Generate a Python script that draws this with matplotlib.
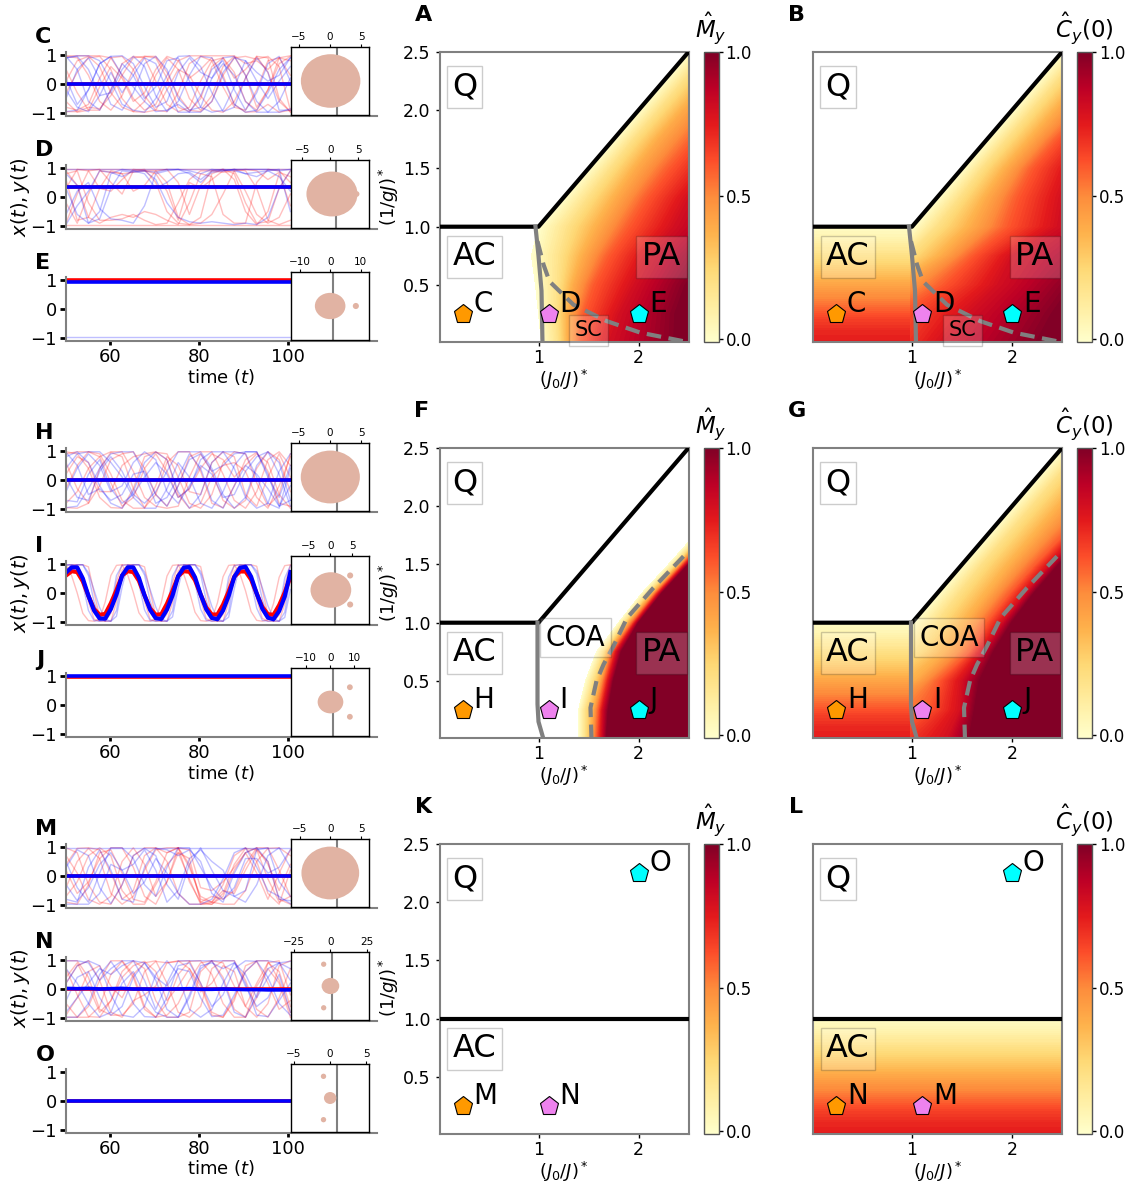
import numpy as np
import matplotlib
matplotlib.use('Agg')
import matplotlib.pyplot as plt
from matplotlib.patches import Ellipse, Polygon
from matplotlib.cm import ScalarMappable
from matplotlib.colors import Normalize

W, H = 1133, 1184

# traces, read at even steps from t=50 to t=100
C_red = [
 [.95,.9,.3,-.6,-.9,-.4,.5,.95,.9,.2,-.8,-.95,-.5,.6,.9,.4,-.6,-.9,-.2,.7,.95],
 [-.8,-.9,-.7,.2,.9,.95,.5,-.4,-.9,-.95,-.3,.7,.95,.8,-.1,-.8,-.9,-.2,.8,.9,.3],
 [.5,-.3,-.9,-.9,-.2,.7,.95,.9,.1,-.7,-.95,-.8,.1,.8,.9,.2,.5,.95,.4,-.6,-.95],
 [-.95,-.95,-.8,-.85,-.4,.3,.9,.95,.95,.4,-.4,-.9,-.95,-.6,.3,.9,.95,.85,.95,.6,-.9],
 [.97,.97,.97,.97,.9,.3,-.5,-.9,-.7,.1,.8,.97,.97,.97,.97,.97,.7,.8,.5,.9,.97],
 [.1,.8,.95,.6,-.3,-.8,-.95,-.97,-.9,-.2,.5,.3,-.4,-.9,-.97,-.6,.2,.95,.9,-.5,-.97],
 [-.6,-.97,-.9,-.1,.6,.2,-.6,-.3,.5,.95,.8,.2,.5,.9,.3,-.7,-.97,-.95,-.7,-.97,-.9],
 [-.3,.4,.9,.95,.5,-.5,-.95,-.6,.3,.9,.5,-.5,-.9,-.4,.6,.95,.3,-.8,-.2,.9,.8],
]
C_blue = [
 [.9,.95,.5,-.4,-.3,.5,.95,.6,-.4,-.95,-.6,.3,.95,.9,.2,-.7,-.97,-.9,-.3,.5,.9],
 [-.5,.5,.9,.2,-.7,-.9,-.3,.7,.95,.5,-.5,-.9,-.8,.2,.9,.95,.3,-.6,-.97,-.97,-.85],
 [.95,.5,-.6,-.9,-.2,.7,.3,-.5,-.1,.8,.9,.1,-.8,-.97,-.9,-.1,.8,.4,.1,.3,.9],
 [-.95,-.9,-.2,.7,.95,.97,.7,-.1,-.8,-.6,.4,.9,.4,.2,.7,.3,-.6,-.97,-.97,-.6,.2],
 [.2,-.7,-.2,.7,.95,.3,-.1,-.6,-.95,-.9,-.7,-.97,-.97,-.6,.4,.9,.8,.1,-.5,.1,.6],
 [.9,.97,.97,.8,.1,-.7,-.9,-.97,-.5,.3,.95,.97,.6,-.3,-.95,-.8,.2,.9,.4,-.9,-.9],
 [-.2,-.8,-.95,-.4,.4,-.3,.3,.9,.7,-.2,-.97,-.97,-.4,.5,.8,-.2,-.9,-.3,.7,.95,.1],
]
D_red = [
 [.97,.97,.97,.97,.97,.97,.97,.97,.97,.97,.97,.97,.97,.97,.97,.97,.97,.97,.97,.97,.97],
 [-.97,-.97,-.97,-.97,-.97,-.97,-.97,-.97,-.97,-.97,-.97,-.97,-.97,-.97,-.97,-.97,-.97,-.97,-.97,-.97,-.97],
 [.9,.4,-.7,-.9,-.7,-.6,-.7,-.5,-.6,-.8,-.95,-.2,.8,.7,-.6,-.9,-.9,.5,.95,.9,.5],
 [.6,-.8,-.7,.3,.9,.8,.2,.4,.9,.5,-.7,-.95,-.7,.8,.95,.8,-.2,-.9,-.85,.3,.9],
 [-.2,-.9,.1,.9,.85,.8,.85,.9,.8,.2,-.8,.5,.3,.6,.9,.95,.9,.3,-.8,-.95,-.8],
 [.8,.9,-.2,-.8,-.8,-.75,-.6,-.8,-.95,-.9,-.2,.6,.9,.9,.85,.9,.2,-.6,-.9,-.7,.1],
 [-.9,.1,.9,.95,.5,.1,.9,.95,.5,-.5,-.9,-.95,-.9,-.6,.1,.9,.95,.9,.6,.85,.7],
 [.3,.95,.9,.3,.2,.6,.95,.9,.9,.95,.5,-.6,.4,.9,.95,.6,-.5,-.95,-.5,.8,-.3],
]
D_blue = [
 [.97,.97,.97,.97,.97,.97,.97,.97,.97,.97,.97,.97,.97,.97,.97,.97,.97,.97,.97,.97,.97],
 [-.95,-.3,.2,.9,.85,.7,.9,.8,.3,.5,.8,.85,.6,.9,.95,.9,.8,.85,.9,.95,-.5],
 [.3,-.6,-.9,-.75,.3,.9,.85,.9,.6,-.2,-.7,-.85,-.9,-.85,-.9,-.95,-.9,-.95,-.7,.3,.9],
 [-.6,.2,.5,-.4,-.75,-.8,-.9,-.3,.8,.9,.95,.9,.8,.95,.9,.95,.8,.7,.9,.7,.2],
 [.8,.4,-.9,-.5,.8,.95,.9,.9,.85,.95,.95,.8,.5,.85,.9,.95,.95,.95,.95,.9,.95],
]
H_red = [
 [.97,.9,.4,-.6,-.95,-.97,-.3,.8,.95,.9,.1,-.8,-.97,-.5,.6,.97,.9,-.1,-.9,-.5,.9],
 [-.95,-.97,-.8,.4,.95,.8,-.3,-.95,-.5,.6,.97,.97,.3,-.8,-.95,-.2,.7,.95,.3,-.8,-.9],
 [.6,-.3,-.8,-.2,.7,.9,.97,.4,-.5,-.9,-.2,.8,.97,.97,.2,-.7,-.97,-.4,.7,.97,.5],
 [-.3,.5,.97,.9,.2,-.7,-.97,-.97,-.2,.8,.5,-.4,-.5,.6,.97,.8,-.5,-.9,.1,.9,.1],
 [.2,.8,.6,-.4,-.4,.5,.8,.9,.97,.7,-.5,-.97,-.8,.1,.5,.6,.3,-.6,-.97,-.2,.8],
 [-.8,-.4,.4,.8,.97,.97,.3,-.6,-.9,-.97,-.9,.1,.9,.3,-.7,-.97,-.7,.4,.97,.7,-.4],
 [.9,.97,.97,.8,-.1,-.9,-.6,.4,.9,.3,-.6,-.3,.4,.9,.7,.1,.5,.9,.6,-.5,-.97],
]
H_blue = [
 [.1,-.6,-.7,.3,.8,.3,-.5,-.8,-.4,.3,.97,.97,.97,.4,-.5,-.97,-.6,.5,.97,.2,-.9],
 [-.7,-.75,.2,.7,-.3,-.8,-.5,.1,.6,.2,-.6,-.3,.7,.97,.97,.97,.9,.1,-.8,-.97,.4],
 [.95,.5,-.5,-.3,-.7,-.5,.2,.3,-.5,-.9,-.2,.7,.9,.3,.5,.9,.97,.97,.2,-.9,-.2],
 [.8,.97,.6,-.2,-.8,-.97,-.4,.6,.97,.7,-.4,-.97,-.5,.6,.97,.4,-.6,-.97,-.8,.3,.9],
 [-.4,.4,.9,.5,-.4,-.2,.6,.97,.7,-.4,-.8,-.2,.5,.2,-.6,-.5,.3,.8,.97,.6,-.7],
 [-.95,-.9,-.3,.4,.9,.97,.97,.2,-.8,-.6,.1,.9,.4,-.7,-.97,-.2,.5,.2,-.3,-.9,-.7],
 [.4,.9,.97,.97,.6,.1,-.6,-.97,-.97,-.3,.6,.1,-.8,-.97,-.4,.5,.97,.97,.1,-.6,.5],
]
M_red = [
 [.97,.8,-.3,-.9,-.97,-.3,.7,.97,.97,.5,-.6,-.97,-.97,-.97,-.6,.4,.95,.9,-.1,-.9,-.7],
 [-.4,.5,.95,.6,-.6,-.97,-.7,.2,.9,.97,.97,.4,-.8,-.9,-.5,-.6,.2,.9,.5,-.8,-.97],
 [-.9,-.97,-.3,.8,.9,.1,-.8,-.9,-.2,.8,.97,-.2,-.9,-.7,-.8,-.5,.4,.97,.97,.2,-.7],
 [.4,.95,.97,.9,.1,-.8,-.5,.7,.97,.8,.97,.3,-.7,-.9,-.97,-.97,-.5,.5,.95,.97,.7],
 [.2,-.6,-.2,.6,.97,.97,.3,-.7,-.97,-.2,.97,.9,-.4,-.5,-.2,.3,.8,.1,-.8,.1,.9],
 [.7,.1,-.8,-.97,-.7,.5,.97,.4,-.7,-.2,.8,.6,-.9,-.97,-.7,.2,.8,.97,.4,-.5,.4],
 [-.7,-.2,.7,.97,.7,-.5,-.97,-.97,-.3,.4,.8,-.1,-.97,-.9,-.3,.7,.97,.5,-.6,-.97,.2],
]
M_blue = [
 [.97,.97,.97,.97,.97,.97,.97,.97,.97,.97,.97,.97,.97,.97,.97,.97,.97,.97,.97,.97,.97],
 [-.8,-.9,.3,.9,.2,-.8,-.9,.3,.95,.9,.7,.9,.5,-.6,-.9,.1,.8,.97,.5,-.8,-.85],
 [.3,.9,.7,-.4,-.95,-.3,.7,.95,.7,-.3,-.8,.4,.97,.2,-.5,-.7,-.9,-.3,.7,.97,.3],
 [-.97,-.97,-.97,-.6,.4,.2,-.6,-.2,.6,.1,-.6,-.97,-.97,-.8,-.1,.8,.97,.3,-.5,-.7,-.95],
 [.5,-.4,-.9,.1,.97,.97,.6,-.3,-.7,.3,.97,.97,.3,-.4,-.8,-.4,.6,.6,.1,.3,.9],
 [-.3,-.85,-.4,.4,.8,.2,.4,.9,.2,-.9,-.5,.6,.9,.5,.2,-.7,-.5,.9,.97,-.2,-.7],
]
N_red = [
 [.97,.97,.4,-.7,-.9,-.9,-.5,.6,.95,.9,.95,.97,.2,-.8,-.97,-.4,.8,.97,.97,.3,-.8],
 [-.9,-.3,.6,.8,.1,-.3,.5,.9,.97,.2,-.8,-.97,-.6,.7,.97,.97,.3,-.7,-.97,-.3,.7],
 [.2,.8,.97,.3,-.8,-.97,-.4,-.2,.1,.9,.97,.7,-.1,.2,.8,.6,-.6,-.97,-.5,.8,.97],
 [.7,-.2,-.95,-.97,-.4,.6,.97,.7,-.4,-.97,-.97,-.8,.6,.97,.4,-.7,-.97,-.3,.9,.97,-.2],
 [-.5,-.97,-.97,-.6,.5,.95,.4,-.7,-.97,-.5,.5,.95,.97,.5,-.5,-.97,-.97,.1,.7,.2,-.97],
 [.4,.9,.1,-.8,-.4,.4,.8,.95,.6,-.4,.1,.7,.1,-.9,-.97,-.3,.6,.95,.2,-.7,-.4],
 [-.97,-.97,-.6,.3,.97,.97,.5,-.6,-.97,-.9,-.5,.3,.9,.97,.9,.1,-.6,.2,.9,.6,-.6],
]
N_blue = [
 [.97,.97,.9,.3,.7,.97,.97,.3,-.7,.2,.97,.97,.97,.97,.3,-.8,-.97,-.2,.7,.9,.95],
 [-.4,.4,.6,-.3,-.9,-.6,.4,.9,.3,-.7,-.97,-.3,.7,.97,.97,.97,.1,-.6,-.3,.5,-.8],
 [.7,.2,-.5,-.97,-.8,.2,.6,-.2,-.8,-.97,-.97,-.2,.8,.9,.7,.9,.2,-.9,-.95,-.4,.2],
 [-.97,-.97,-.5,.5,.95,.4,-.5,-.95,-.97,-.3,.8,.9,.2,-.6,-.2,.7,.97,.95,.4,-.5,-.9],
 [.2,.8,.97,.8,-.2,-.9,-.97,-.6,.5,.97,.5,-.7,-.97,-.7,.2,.9,.5,-.3,.4,.9,.7],
 [-.8,-.3,.2,.7,.5,.8,.97,.9,.4,.1,.7,.6,-.3,-.95,-.9,-.2,.6,.97,.97,.9,.3],
]
# periodic panel, read every 1.25 time units
I_mean_red = [.6,.75,.72,.4,-.1,-.55,-.75,-.72,-.35,.1,.6,.75,.72,.42,-.08,-.53,-.75,-.73,-.37,.08,.58,.75,.73,.44,-.05,-.5,-.74,-.74,-.4,.05,.56,.74,.74,.46,-.02,-.48,-.73,-.75,-.42,.02,.55]
I_mean_blue = [.7,.88,.88,.5,-.1,-.6,-.88,-.88,-.55,-.05,.6,.88,.88,.52,-.08,-.58,-.87,-.89,-.57,-.08,.58,.87,.89,.54,-.05,-.56,-.86,-.9,-.6,-.1,.55,.86,.9,.56,-.02,-.54,-.85,-.9,-.62,-.12,.72]
I_red = [
 [.97,.97,.95,.6,-.3,-.9,-.97,-.97,-.7,.4,.97,.97,.95,.62,-.28,-.9,-.97,-.97,-.72,.38,.96,.97,.96,.64,-.25,-.88,-.97,-.97,-.74,.35,.96,.97,.96,.66,-.22,-.87,-.97,-.97,-.76,.3,.95],
 [.8,.95,.97,.97,.9,.0,-.8,-.97,-.97,-.3,.78,.95,.97,.97,.9,.05,-.78,-.97,-.97,-.32,.76,.95,.97,.97,.91,.08,-.76,-.97,-.97,-.34,.74,.94,.97,.97,.92,.1,-.74,-.97,-.97,-.36,.72],
 [.97,.6,.0,-.7,-.95,-.97,-.9,-.3,.6,.95,.97,.62,.02,-.68,-.95,-.97,-.9,-.32,.58,.95,.97,.64,.05,-.66,-.95,-.97,-.91,-.34,.56,.95,.97,.66,.08,-.64,-.94,-.97,-.92,-.36,.54,.94,.97],
]
I_blue = [
 [.97,.97,.97,.97,.7,.1,-.5,-.9,-.97,-.8,.2,.97,.97,.97,.72,.12,-.48,-.9,-.97,-.82,.18,.97,.97,.97,.74,.15,-.46,-.89,-.97,-.83,.15,.96,.97,.97,.76,.18,-.44,-.88,-.97,-.84,.12],
 [.95,.97,.9,.3,-.6,-.95,-.97,-.95,-.5,.6,.95,.97,.91,.32,-.58,-.95,-.97,-.95,-.52,.58,.95,.97,.92,.35,-.55,-.94,-.97,-.95,-.54,.55,.94,.97,.93,.38,-.52,-.94,-.97,-.96,-.56,.52,.94],
 [.6,.9,.97,.97,.6,-.3,-.85,-.97,-.97,-.6,.58,.9,.97,.97,.62,-.28,-.84,-.97,-.97,-.62,.56,.9,.97,.97,.64,-.25,-.83,-.97,-.97,-.64,.54,.89,.97,.97,.66,-.22,-.82,-.97,-.97,-.66,.5],
]
mean_C = [0.0, 0.0]
mean_D = [0.35, 0.35]
mean_E_red = [0.98, 0.98]
mean_E_blue = [0.94, 0.94]
mean_J_red = [0.97, 0.97]
mean_J_blue = [1.0, 1.0]
mean_N_blue = [.02,.01,.02,.0,.01,.02,.0,.0,-.01,.0,.0,.01,-.01,-.01,.0,-.01,-.02,-.02,-.03,-.03,-.03]

# inset distributions: x range, ticks, vline, main disc, side dots
inset_C = dict(xlim=(-6.2, 6.2), ticks=[-5, 0, 5], vline=1.1, disc=(0.1, 0, 4.73, 4.26), dots=[])
inset_D = dict(xlim=(-7.0, 6.9), ticks=[-5, 0, 5], vline=1.0, disc=(0.3, 0, 4.55, 4.0), dots=[(4.7, 0, 0.5)])
inset_E = dict(xlim=(-12.8, 12.7), ticks=[-10, 0, 10], vline=1.0, disc=(0, 0, 5.0, 4.3), dots=[(8.4, 0, 1.0)])
inset_H = dict(xlim=(-6.2, 6.2), ticks=[-5, 0, 5], vline=1.1, disc=(0.05, 0, 4.7, 4.2), dots=[])
inset_I = dict(xlim=(-9.1, 8.9), ticks=[-5, 0, 5], vline=1.0, disc=(0.1, 0, 4.7, 4.1), dots=[(4.55, 3.35, 0.7), (4.55, -3.35, 0.7)])
inset_J = dict(xlim=(-16.2, 16.0), ticks=[-10, 0, 10], vline=1.1, disc=(0.1, 0, 5.3, 4.7), dots=[(8.1, 6.1, 1.2), (8.1, -6.1, 1.2)])
inset_M = dict(xlim=(-6.4, 6.3), ticks=[-5, 0, 5], vline=1.04, disc=(0, 0, 4.7, 4.3), dots=[])
inset_N = dict(xlim=(-26.7, 26.3), ticks=[-25, 0, 25], vline=1.0, disc=(0.1, 0, 6.0, 5.5), dots=[(-4.5, 14.8, 1.8), (-4.5, -14.8, 1.8)])
inset_O = dict(xlim=(-5.4, 5.4), ticks=[-5, 0, 5], vline=1.0, disc=(0.02, 0, 0.86, 0.83), dots=[(-0.9, 3.0, 0.37), (-0.9, -3.0, 0.37)])

# phase diagrams: x where the colour value reaches each level, per row
iso_levels = [0, .2, .4, .6, .8, 1.0, 1.0]
iso_rows = [0.0, .25, .5, .75, 1.0, 1.25, 1.5, 1.75, 2.0, 2.25, 2.5]
A_iso = [
 [1.03,1.2,1.3,1.42,1.7,2.4,6],
 [1.0,1.18,1.3,1.45,1.8,2.4,6],
 [.97,1.2,1.35,1.55,1.95,2.5,6],
 [.93,1.22,1.45,1.7,2.1,2.7,6],
 [1.0,1.3,1.6,1.9,2.35,3.0,6],
 [1.25,1.5,1.78,2.08,2.5,3.2,6],
 [1.5,1.72,1.98,2.3,2.75,3.5,6],
 [1.75,1.95,2.2,2.55,3.0,3.7,6],
 [2.0,2.2,2.45,2.8,3.2,4.0,6],
 [2.25,2.45,2.7,3.05,3.45,4.3,6],
 [2.5,2.7,2.95,3.3,3.7,4.5,6],
]
B_iso = [
 [0,.1,.3,.7,1.3,2.3,6],
 [0,.2,.4,.85,1.55,2.45,6],
 [.3,.55,.85,1.3,1.85,2.65,6],
 [.75,.95,1.3,1.6,2.0,3.0,6],
 [1.0,1.25,1.6,1.95,2.45,3.2,6],
 [1.25,1.48,1.75,2.05,2.5,3.3,6],
 [1.5,1.7,1.95,2.2,2.6,3.4,6],
 [1.75,1.95,2.2,2.45,2.8,3.6,6],
 [2.0,2.2,2.45,2.75,3.1,3.8,6],
 [2.25,2.45,2.7,3.0,3.4,4.0,6],
 [2.5,2.7,2.95,3.25,3.6,4.3,6],
]
F_rows = [0.0, .25, .5, .75, 1.0, 1.25, 1.5, 1.75]
F_iso = [
 [1.4,1.47,1.53,1.58,1.63,1.68,6],
 [1.4,1.47,1.55,1.6,1.64,1.7,6],
 [1.47,1.55,1.62,1.66,1.7,1.75,6],
 [1.58,1.65,1.7,1.74,1.78,1.83,6],
 [1.8,1.86,1.9,1.94,1.97,2.0,6],
 [2.03,2.09,2.14,2.17,2.2,2.23,6],
 [2.3,2.37,2.41,2.44,2.47,2.5,6],
 [2.56,2.62,2.66,2.7,2.74,2.78,6],
]
G_iso = [
 [0,.1,.3,.7,1.35,1.58,6],
 [0,.2,.5,1.15,1.48,1.63,6],
 [.3,.55,1.03,1.27,1.5,1.68,6],
 [.8,1.03,1.35,1.58,1.7,1.82,6],
 [1.0,1.25,1.55,1.75,1.9,2.0,6],
 [1.25,1.47,1.77,1.98,2.13,2.22,6],
 [1.5,1.7,2.0,2.24,2.38,2.47,6],
 [1.75,1.95,2.25,2.52,2.66,2.74,6],
 [2.0,2.2,2.5,2.82,2.96,3.05,6],
 [2.25,2.45,2.75,3.1,3.3,3.4,6],
 [2.5,2.7,3.0,3.35,3.55,3.7,6],
]
AC_rows = [0.0, .1, .2, .3, .4, .5, .6, .7, .8, .9, 1.0]
AC_cy = [.75, .72, .66, .58, .5, .42, .33, .25, .16, .08, .02]

black_x = [0, 1.0, 2.5]
black_y = [1.0, 1.0, 2.5]
flat_x = [0, 2.5]
flat_y = [1.0, 1.0]
grey_A_x = [.97, 1.0, 1.03, 1.04]
grey_A_y = [1.0, .75, .45, 0.0]
grey_F_x = [.99, .99, 1.0, 1.05]
grey_F_y = [1.0, .3, .15, 0.0]
dash_A_x = [.99, 1.05, 1.11, 1.35, 1.68, 2.02, 2.49]
dash_A_y = [.875, .675, .53, .33, .19, .09, .01]
dash_F_x = [1.53, 1.52, 1.58, 1.65, 1.75, 1.885, 2.15, 2.45]
dash_F_y = [0.0, .27, .5, .64, .8, 1.04, 1.3, 1.57]

ORANGE, VIOLET, CYAN = '#ff9900', '#ee82ee', '#00ffff'
DISC = '#e1b3a3'
GREY = '#808080'
cmap = plt.get_cmap('YlOrRd')
fill_levels = np.linspace(0, 1, 71)
norm = Normalize(0, 1)


def px_axes(x0, y0, x1, y1):
    return fig.add_axes([x0 / W, 1 - y1 / H, (x1 - x0) / W, (y1 - y0) / H])


def px_text(x, y, s, **kw):
    fig.text(x / W, 1 - y / H, s, ha=kw.pop('ha', 'center'), va=kw.pop('va', 'center'), **kw)


def time_panel(y0, red, blue, mred, mblue, inset, bottom=False, lwm=2.6):
    ax = px_axes(66, y0, 377, y0 + 64)
    for v in red:
        ax.plot(np.linspace(50, 100.5, len(v)), v, color='red', alpha=0.25, lw=1)
    for v in blue:
        ax.plot(np.linspace(50, 100.5, len(v)), v, color='blue', alpha=0.25, lw=1)
    ax.plot(np.linspace(50, 100.5, len(mred)), mred, color='red', lw=lwm)
    ax.plot(np.linspace(50, 100.5, len(mblue)), mblue, color='blue', lw=lwm)
    ax.set_xlim(50, 120)
    ax.set_ylim(-1.1, 1.1)
    ax.set_yticks([-1, 0, 1])
    ax.spines[['top', 'right']].set_visible(False)
    ax.spines[['left', 'bottom']].set_color(GREY)
    ax.spines[['left', 'bottom']].set_linewidth(1.5)
    ax.tick_params(axis='y', length=4.5, width=2, labelsize=13, pad=2)
    if bottom:
        ax.set_xticks([60, 80, 100])
        ax.tick_params(axis='x', length=3, width=2, labelsize=13, pad=2)
    else:
        ax.set_xticks([])
    # inset with the distribution
    ins = px_axes(291, y0 - 5, 369, y0 + 63)
    ins.set_xlim(*inset['xlim'])
    span = inset['xlim'][1] - inset['xlim'][0]
    ins.set_ylim(-span * 68 / 78 / 2, span * 68 / 78 / 2)
    ins.axvline(inset['vline'], color=GREY, lw=1.5, zorder=1)
    cx, cy, rx, ry = inset['disc']
    ins.add_patch(Ellipse((cx, cy), 2 * rx, 2 * ry, color=DISC, lw=0, zorder=2))
    for dx, dy, r in inset['dots']:
        ins.add_patch(Ellipse((dx, dy), 2 * r, 2 * r, color=DISC, lw=0, zorder=2))
    ins.set_yticks([])
    ins.set_xticks(inset['ticks'])
    ins.xaxis.tick_top()
    ins.tick_params(axis='x', length=2, width=0.8, labelsize=7.5, pad=1.5)
    for s in ins.spines.values():
        s.set_linewidth(1)


def region(ax, x, y, s, size=23):
    ax.text(x, y, s, fontsize=size, ha='center', va='center', zorder=6,
            bbox=dict(facecolor='white', edgecolor='black', alpha=0.2, pad=4))


def phase_panel(x0, y0, title, labels, fill=None, lines=None, texts=()):
    ax = px_axes(x0, y0, x0 + 249, y0 + 290)
    ax.set_xlim(0.01, 2.5)
    ax.set_ylim(0.01, 2.5)
    if fill:
        fill(ax)
    if lines:
        lines(ax)
    for (mx, my, col, s) in labels:
        ax.plot([mx], [my], marker='p', ms=14, mfc=col, mec='black', mew=0.8, ls='', zorder=5, clip_on=False)
        ax.text(mx + 0.11, my + 0.09, s, fontsize=20, ha='left', va='center', zorder=6)
    for (tx, ty, s, size) in texts:
        region(ax, tx, ty, s, size)
    ax.set_xticks([1, 2])
    ax.set_xlabel(r'$(J_0/J)^*$', fontsize=13, labelpad=1)
    ax.tick_params(axis='x', length=3, width=1, labelsize=12.5, pad=2)
    for s in ax.spines.values():
        s.set_color(GREY)
        s.set_linewidth(1.5)
    cax = px_axes(x0 + 264, y0, x0 + 279, y0 + 290)
    cb = fig.colorbar(ScalarMappable(Normalize(-0.01, 1), cmap), cax=cax, ticks=[0, .5, 1], format='%.1f')
    cb.outline.set_edgecolor('#555555')
    cb.outline.set_linewidth(1)
    cax.tick_params(length=3, width=1, labelsize=12, pad=2)
    px_text(x0 + 271, y0 - 24, title, fontsize=16.5)
    return ax


def iso_fill(rows, table, ax, clip=False):
    X = np.array(table, dtype=float)
    Y = np.repeat(np.array(rows)[:, None], X.shape[1], axis=1)
    Z = np.repeat(np.array(iso_levels)[None, :], X.shape[0], axis=0)
    # solid layer under the smooth one so the seams between levels stay faint
    for aa in (False, True):
        cs = ax.contourf(X, Y, Z, levels=fill_levels, cmap=cmap, norm=norm, antialiased=aa)
        if clip:
            cs.set_clip_path(Polygon([(.98, 0), (.98, 3), (3, 3), (3, 0)], transform=ax.transData))


def ac_fill(ax, x_end):
    X = np.array([0, x_end])
    Z = np.repeat(np.array(AC_cy)[:, None], 2, axis=1)
    ax.contourf(X, AC_rows, Z, levels=fill_levels, cmap=cmap, norm=norm, antialiased=True)


def lines_A(ax):
    ax.plot(black_x, black_y, color='black', lw=3, solid_capstyle='round', zorder=4)
    ax.plot(grey_A_x, grey_A_y, color=GREY, lw=3, zorder=4)
    ax.plot(dash_A_x, dash_A_y, color=GREY, lw=3, ls=(0, (3.5, 1.8)), zorder=4)


def lines_F(ax):
    ax.plot(black_x, black_y, color='black', lw=3, solid_capstyle='round', zorder=4)
    ax.plot(grey_F_x, grey_F_y, color=GREY, lw=3, zorder=4)
    ax.plot(dash_F_x, dash_F_y, color=GREY, lw=3, ls=(0, (3.5, 1.8)), zorder=4)


def lines_K(ax):
    ax.plot(flat_x, flat_y, color='black', lw=3, zorder=4)


fig = plt.figure(figsize=(W / 100, H / 100), dpi=100)

# left column
time_panel(52, C_red, C_blue, mean_C, mean_C, inset_C)
time_panel(165, D_red, D_blue, mean_D, mean_D, inset_D)
time_panel(277, [[.97, .97]], [[-.97, -.97]], mean_E_red, mean_E_blue, inset_E, bottom=True)
time_panel(448, H_red, H_blue, mean_C, mean_C, inset_H)
time_panel(561, I_red, I_blue, I_mean_red, I_mean_blue, inset_I, lwm=3)
time_panel(673, [], [], mean_J_red, mean_J_blue, inset_J, bottom=True)
time_panel(844, M_red, M_blue, mean_C, mean_C, inset_M)
time_panel(957, N_red, N_blue, mean_C, mean_N_blue, inset_N)
time_panel(1069, [], [], mean_C, mean_C, inset_O, bottom=True)

for yc in (197, 593, 988):
    px_text(20, yc, r'$x(t), y(t)$', fontsize=14, rotation=90)
    px_text(389, yc, r'$(1/gJ)^*$', fontsize=13, rotation=90)
for yc in (377, 773, 1168):
    px_text(221, yc, r'time ($t$)', fontsize=13)

# phase diagrams
labels_top = [(.24, .25, ORANGE, 'C'), (1.1, .25, VIOLET, 'D'), (2.0, .25, CYAN, 'E')]
labels_mid = [(.24, .25, ORANGE, 'H'), (1.1, .25, VIOLET, 'I'), (2.0, .25, CYAN, 'J')]
labels_K = [(.24, .25, ORANGE, 'M'), (1.1, .25, VIOLET, 'N'), (2.0, 2.25, CYAN, 'O')]
labels_L = [(.24, .25, ORANGE, 'N'), (1.1, .25, VIOLET, 'M'), (2.0, 2.25, CYAN, 'O')]
text_top = [(.26, 2.2, 'Q', 23), (.36, .74, 'AC', 23), (2.23, .74, 'PA', 23), (1.5, .11, 'SC', 15)]
text_mid = [(.26, 2.2, 'Q', 23), (.36, .74, 'AC', 23), (2.23, .74, 'PA', 23), (1.37, .87, 'COA', 20)]
text_low = [(.26, 2.2, 'Q', 23), (.36, .74, 'AC', 23)]
M_T = r'$\hat{M}_y$'
C_T = r'$\hat{C}_y(0)$'


def fill_A(ax):
    iso_fill(iso_rows, A_iso, ax)


def fill_B(ax):
    ac_fill(ax, 1.02)
    iso_fill(iso_rows, B_iso, ax, clip=True)


def fill_F(ax):
    iso_fill(F_rows, F_iso, ax)


def fill_G(ax):
    ac_fill(ax, 1.02)
    iso_fill(iso_rows, G_iso, ax, clip=True)


def fill_L(ax):
    ac_fill(ax, 2.5)


axA = phase_panel(439.5, 52, M_T, labels_top, fill_A, lines_A, text_top)
axB = phase_panel(813, 52, C_T, labels_top, fill_B, lines_A, text_top)
axF = phase_panel(439.5, 448, M_T, labels_mid, fill_F, lines_F, text_mid)
axG = phase_panel(813, 448, C_T, labels_mid, fill_G, lines_F, text_mid)
axK = phase_panel(439.5, 844, M_T, labels_K, None, lines_K, text_low)
axL = phase_panel(813, 844, C_T, labels_L, fill_L, lines_K, text_low)
for ax in (axA, axF, axK):
    ax.set_yticks([.5, 1, 1.5, 2, 2.5])
    ax.set_yticklabels(['0.5', '1.0', '1.5', '2.0', '2.5'])
    ax.tick_params(axis='y', length=3, width=1, labelsize=12.5, pad=3.5)
for ax in (axB, axG, axL):
    ax.set_yticks([])

# panel letters
letters = [('C', 43, 37), ('D', 44, 150), ('E', 43, 263), ('H', 44, 433), ('I', 39, 546), ('J', 40, 660),
           ('M', 46, 829), ('N', 44, 942), ('O', 45, 1055),
           ('A', 424, 15), ('B', 797, 15), ('F', 422, 411), ('G', 797, 411), ('K', 424, 807), ('L', 796, 807)]
for s, x, y in letters:
    px_text(x, y, s, fontsize=16, fontweight='bold')

fig.savefig('out.png', dpi=100)
